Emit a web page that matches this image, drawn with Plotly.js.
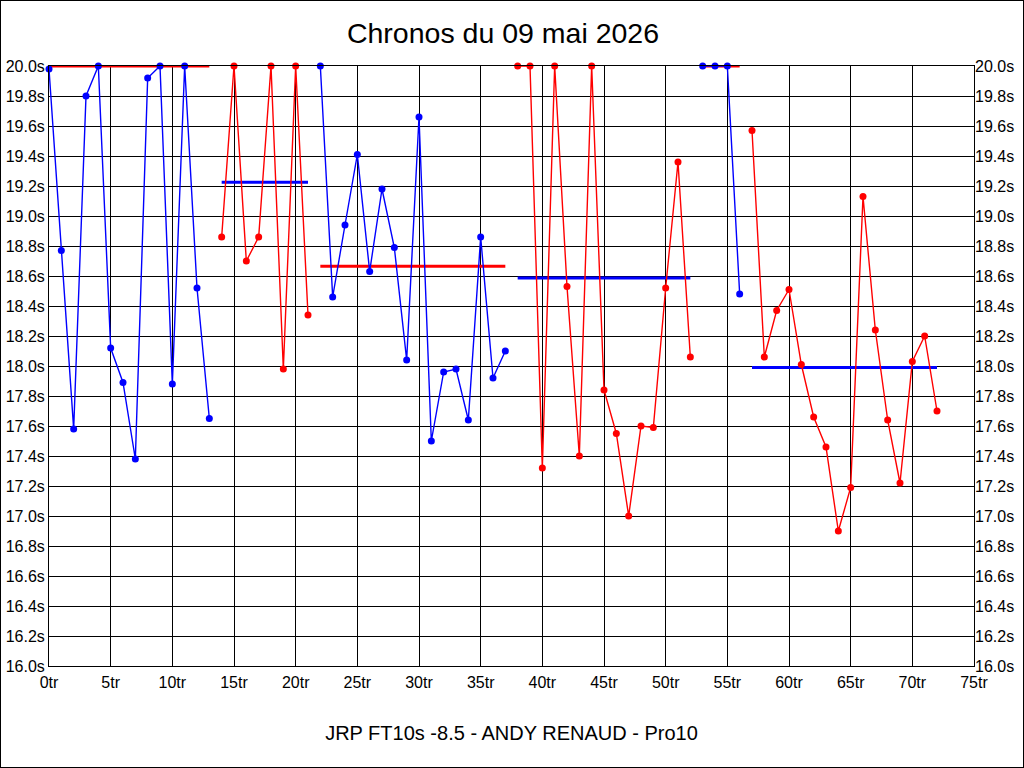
<!DOCTYPE html>
<html>
<head>
<meta charset="utf-8">
<script src="https://cdn.plot.ly/plotly-3.0.1.min.js"></script>
<style>
html,body{margin:0;padding:0;background:#fff;}
#chart{width:1024px;height:768px;box-sizing:border-box;border:1px solid #000;}
</style>
</head>
<body>
<div id="chart"></div>
<script>
// Lap numbers and times (seconds) per run segment
const laps1 = [0,1,2,3,4,5,6,7,8,9,10,11,12,13];
const times1 = [19.98,18.77,17.58,19.80,20.0,18.12,17.89,17.38,19.92,20.0,17.88,20.0,18.52,17.65];
const laps2 = [14,15,16,17,18,19,20,21];
const times2 = [18.86,20.0,18.70,18.86,20.0,17.98,20.0,18.34];
const laps3 = [22,23,24,25,26,27,28,29,30,31,32,33,34,35,36,37];
const times3 = [20.0,18.46,18.94,19.41,18.63,19.18,18.79,18.04,19.66,17.50,17.96,17.98,17.64,18.86,17.92,18.10];
const laps4 = [38,39,40,41,42,43,44,45,46,47,48,49,50,51,52];
const times4 = [20.0,20.0,17.32,20.0,18.53,17.40,20.0,17.84,17.55,17.00,17.60,17.59,18.52,19.36,18.06];
const laps5 = [53,54,55,56];
const times5 = [20.0,20.0,20.0,18.48];
const laps6 = [57,58,59,60,61,62,63,64,65,66,67,68,69,70,71,72];
const times6 = [19.57,18.06,18.37,18.51,18.01,17.66,17.46,16.90,17.19,19.13,18.24,17.64,17.22,18.03,18.20,17.70];

// Segment average lines
const avgStart = [0,14,22,38,53,57];
const avgEnd = [13,21,37,52,56,72];
const avgValue = [20.0,19.225,18.665,18.587,20.0,17.99];

const segLaps = [laps1,laps2,laps3,laps4,laps5,laps6];
const segTimes = [times1,times2,times3,times4,times5,times6];
const segColors = ['#0000ff','#ff0000','#0000ff','#ff0000','#0000ff','#ff0000'];
const avgColors = ['#ff0000','#0000ff','#ff0000','#0000ff','#ff0000','#0000ff'];

const xTickVals = [0,5,10,15,20,25,30,35,40,45,50,55,60,65,70,75];
const xTickText = xTickVals.map(v => v + 'tr');
const yTickVals = [];
for (let i = 0; i <= 20; i++) yTickVals.push(+(16 + i*0.2).toFixed(1));
const yTickText = yTickVals.map(v => v.toFixed(1) + 's');

const traces = [];
for (let i = 0; i < avgValue.length; i++) {
  traces.push({
    x: [avgStart[i], avgEnd[i]], y: [avgValue[i], avgValue[i]],
    mode: 'lines', line: {color: avgColors[i], width: 3},
    hoverinfo: 'skip', showlegend: false, cliponaxis: false
  });
}
for (let i = 0; i < segLaps.length; i++) {
  traces.push({
    x: segLaps[i], y: segTimes[i],
    mode: 'lines+markers',
    line: {color: segColors[i], width: 1.4},
    marker: {color: segColors[i], size: 7},
    showlegend: false, cliponaxis: false
  });
}
// invisible trace to draw right axis
traces.push({x: [0], y: [16], yaxis: 'y2', mode: 'markers', marker: {opacity: 0}, showlegend: false, hoverinfo: 'skip'});

const tickFont = {family: '"Liberation Sans Narrow", "Arial Narrow", "Liberation Sans", Arial, sans-serif', size: 16, color: '#000'};

const layout = {
  width: 1022, height: 766,
  margin: {l: 48, r: 49, t: 65, b: 101, pad: 0},
  paper_bgcolor: '#fff', plot_bgcolor: '#fff',
  title: {text: 'Chronos du 09 mai 2026', font: {family: '"Liberation Sans", Arial, sans-serif', size: 28.5, color: '#000'},
          x: 502/1022, xanchor: 'center', xref: 'container', y: 1 - 32/766, yref: 'container', yanchor: 'middle'},
  xaxis: {
    range: [0, 75], tickvals: xTickVals, ticktext: xTickText,
    showgrid: true, gridcolor: '#000', gridwidth: 1,
    showline: true, linecolor: '#000', linewidth: 1, mirror: true,
    zeroline: false, ticks: '', tickfont: tickFont, ticklabelstandoff: 2,
    title: {text: 'JRP FT10s -8.5 - ANDY RENAUD - Pro10', font: {family: '"Liberation Sans", Arial, sans-serif', size: 20, color: '#000'}, standoff: 35}
  },
  yaxis: {
    range: [16, 20], tickvals: yTickVals, ticktext: yTickText,
    showgrid: true, gridcolor: '#000', gridwidth: 1,
    showline: true, linecolor: '#000', linewidth: 1, mirror: true,
    zeroline: false, ticks: '', tickfont: tickFont
  },
  yaxis2: {
    range: [16, 20], tickvals: yTickVals, ticktext: yTickText,
    overlaying: 'y', side: 'right', showgrid: false, zeroline: false,
    showline: false, ticks: '', tickfont: tickFont
  },
  hovermode: false
};

Plotly.newPlot('chart', traces, layout, {displayModeBar: false, staticPlot: true});
</script>
</body>
</html>
